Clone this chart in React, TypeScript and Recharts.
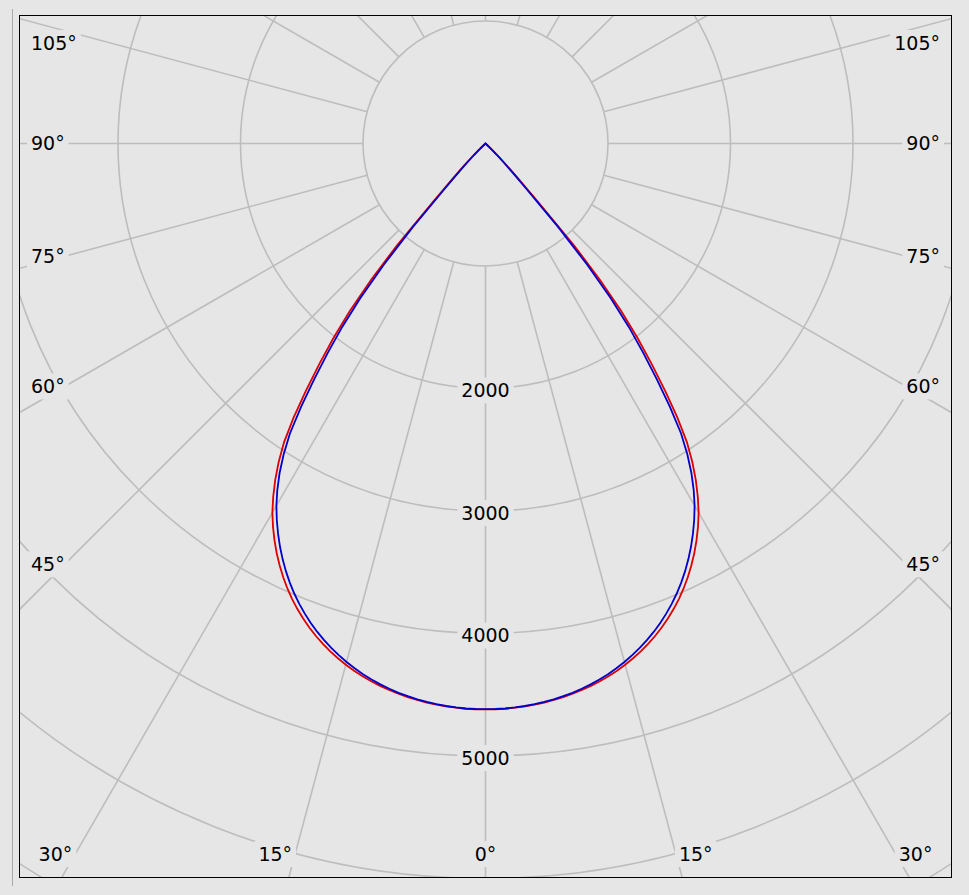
import React from 'react';
import { RadarChart, Radar, PolarGrid, PolarAngleAxis, PolarRadiusAxis } from 'recharts';

// photometric angle gamma (deg from nadir) and intensity (cd)
const GAMMA = [
  0, 1, 2, 3, 4, 5, 6, 7, 8, 9, 10, 11, 12, 13, 14, 15, 16, 17, 18, 19, 20, 21, 22, 23, 24,
  25, 26, 27, 28, 29, 30, 31, 32, 33, 34, 35, 36, 37, 38, 39, 40, 41, 42, 43, 44, 45, 46, 47, 48,
];
const C0_C180 = [
  4620, 4619, 4617, 4612, 4606, 4598, 4589, 4577, 4563, 4548, 4530, 4510, 4488, 4463, 4435,
  4405, 4371, 4335, 4295, 4252, 4205, 4154, 4099, 4040, 3976, 3907, 3833, 3754, 3669, 3578,
  3480, 3365, 3240, 3100, 2940, 2730, 2495, 2255, 2020, 1760, 1450, 1100, 640, 390, 255, 165,
  90, 30, 0,
];
const C90_C270 = [
  4618, 4617, 4615, 4610, 4603, 4594, 4584, 4571, 4556, 4540, 4520, 4498, 4474, 4446, 4415,
  4382, 4345, 4306, 4263, 4217, 4167, 4113, 4055, 3993, 3926, 3854, 3777, 3695, 3607, 3514,
  3414, 3300, 3172, 3025, 2855, 2625, 2380, 2140, 1900, 1625, 1290, 905, 500, 320, 210, 130,
  60, 12, 0,
];

const RING_TICKS = [1000, 2000, 3000, 4000, 5000, 6000, 7000];
const RING_LABELS = [2000, 3000, 4000, 5000];
const GRID_ANGLES = [0, 15, 30, 45, 60, 75, 90, 105, 120, 135, 150, 165, 180, 195, 210, 225, 240, 255, 270, 285, 300, 315, 330, 345];
const ANGLE_LABELS = [0, 15, 30, 45, 60, 75, 90, 105];

// right half of the curve is gamma, left half is 360 - gamma
const rows = [
  ...GAMMA.map((g, i) => ({ angle: g, red: C0_C180[i], blue: C90_C270[i] })),
  ...GAMMA.map((g, i) => ({ angle: 360 - g, red: C0_C180[i], blue: C90_C270[i] }))
    .slice(1)
    .reverse(),
];

const W = 931;
const H = 861;
const CX = 465.5;
const CY = 127.5;
const BG = '#e6e6e6';
const FS = 19;
const FONT = '"DejaVu Sans", Verdana, sans-serif';

const textWidth = (s: string) => {
  let w = 0;
  for (const ch of s) w += ch === '°' ? 0.5 * FS : 0.636 * FS;
  return w;
};

function AngleTick(props: any) {
  const v = props.payload.value;
  const side = v > 180 ? -1 : 1;
  const g = v > 180 ? 360 - v : v;
  if (!ANGLE_LABELS.includes(g)) return <g />;
  const text = `${g}°`;
  const w = textWidth(text);
  const rad = (g * Math.PI) / 180;
  const sn = Math.sin(rad);
  const cs = Math.cos(rad);
  let x: number;
  let y: number;
  let anchor: 'start' | 'middle' | 'end';
  if (g <= 30) {
    y = H - 23;
    const rx = CX + (side * sn * (y - CY)) / cs;
    if (g === 0) {
      x = rx;
      anchor = 'middle';
    } else {
      x = rx + side * 3;
      anchor = side < 0 ? 'end' : 'start';
    }
  } else {
    x = side < 0 ? 11 : W - 11;
    anchor = side < 0 ? 'start' : 'end';
    const inner = side < 0 ? x + w : x - w;
    y = CY + (Math.abs(inner - CX) / sn) * cs;
    y = Math.max(y, 27);
  }
  const left = anchor === 'start' ? x : anchor === 'end' ? x - w : x - w / 2;
  return (
    <g>
      <rect x={left - 4} y={y - 13} width={w + 8} height={26} fill={BG} />
      <text x={x} y={y} dy="0.36em" textAnchor={anchor} fontFamily={FONT} fontSize={FS} fill="#000">
        {text}
      </text>
    </g>
  );
}

function RingTick(props: any) {
  const v = props.payload.value;
  if (!RING_LABELS.includes(v)) return <g />;
  const text = String(v);
  const w = textWidth(text);
  return (
    <g>
      <rect x={props.x - w / 2 - 4} y={props.y - 11} width={w + 8} height={26} fill={BG} />
      <text x={props.x} y={props.y + 2} dy="0.36em" textAnchor="middle" fontFamily={FONT} fontSize={FS} fill="#000">
        {text}
      </text>
    </g>
  );
}

export default function App() {
  return (
    <div style={{ position: 'absolute', left: 0, top: 0, width: 969, height: 895, background: BG }}>
      <div style={{ position: 'absolute', left: 12, top: 9, width: 1, height: 877, background: '#a9a9a9' }} />
      <div
        style={{
          position: 'absolute',
          left: 19,
          top: 15,
          width: W + 2,
          height: H + 2,
          boxSizing: 'border-box',
          border: '1px solid #000',
          overflow: 'hidden',
          background: BG,
        }}
      >
        <RadarChart
          width={W}
          height={H}
          data={rows}
          cx={CX}
          cy={CY}
          innerRadius={122.5}
          outerRadius={857.5}
          startAngle={-90}
          endAngle={270}
          margin={{ top: 0, right: 0, bottom: 0, left: 0 }}
        >
          <PolarGrid gridType="circle" stroke="#bdbdbd" strokeWidth={1.6} />
          <PolarAngleAxis
            dataKey="angle"
            type="number"
            domain={[0, 360]}
            ticks={GRID_ANGLES}
            tick={AngleTick}
            axisLine={false}
            tickLine={false}
          />
          <PolarRadiusAxis
            angle={-90}
            type="number"
            domain={[1000, 7000]}
            ticks={RING_TICKS}
            allowDataOverflow
            tick={RingTick}
            axisLine={false}
            tickLine={false}
          />
          <Radar dataKey="red" stroke="#dc0000" strokeWidth={1.8} fill="none" fillOpacity={0} dot={false} isAnimationActive={false} />
          <Radar dataKey="blue" stroke="#0000cc" strokeWidth={1.8} fill="none" fillOpacity={0} dot={false} isAnimationActive={false} />
        </RadarChart>
      </div>
    </div>
  );
}
